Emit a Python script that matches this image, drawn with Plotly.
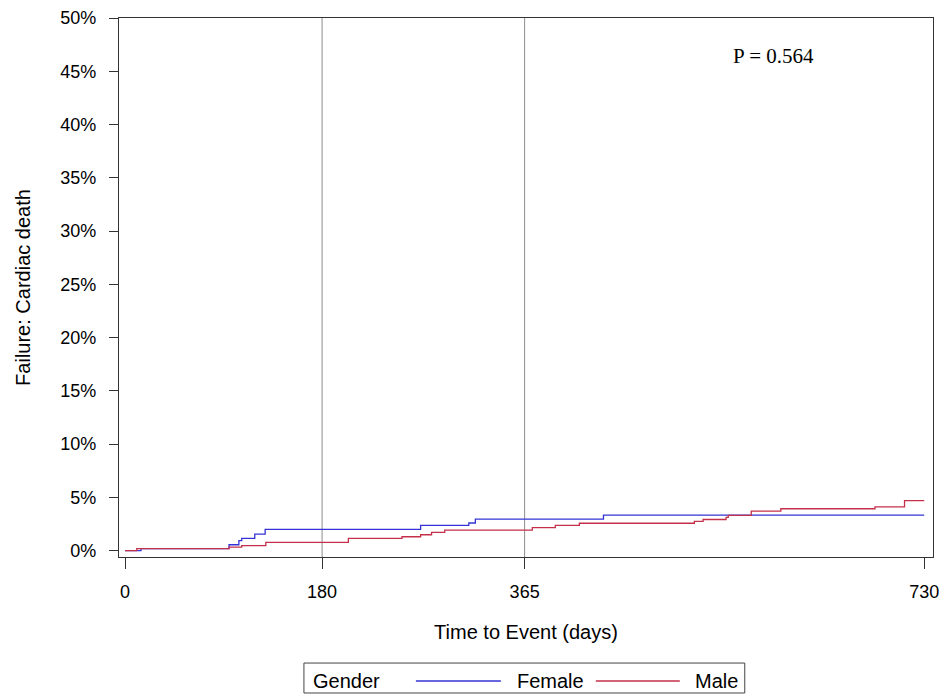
import plotly.graph_objects as go

# ---- data ----
female_days = [0, 14.6, 95, 104, 106.6, 118.5, 128, 270, 314, 320, 437, 730]
female_pct = [0, 0.19, 0.56, 0.94, 1.15, 1.56, 2.0, 2.37, 2.6, 2.97, 3.34, 3.34]

male_days = [0, 10.7, 95, 106.6, 128.6, 204, 253, 270, 280, 292, 372, 393, 415,
             520, 528, 549, 551, 572, 599, 685, 712, 730]
male_pct = [0, 0.19, 0.34, 0.47, 0.78, 1.15, 1.31, 1.5, 1.72, 1.94, 2.16, 2.37, 2.58,
            2.75, 2.93, 3.12, 3.31, 3.72, 3.94, 4.12, 4.71, 4.71]

x_ticks = [0, 180, 365, 730]
y_ticks = [0, 5, 10, 15, 20, 25, 30, 35, 40, 45, 50]
y_tick_labels = [f"{v}%" for v in y_ticks]
ref_lines = [180, 365]
p_text = "P = 0.564"

BLUE = "#3434D6"
RED = "#C4304A"
FONT = "Liberation Sans, Arial, sans-serif"

OFF = 8  # page body margin
W, H = 950 - OFF, 695 - OFF
L, R, T, B = 119 - OFF, 933.3 - OFF, 17.5 - OFF, 557.3 - OFF


def px(xp):
    return (xp - OFF - L) / (R - L)


def py(yp):
    return (B - (yp - OFF)) / (B - T)


fig = go.Figure()
fig.add_trace(go.Scatter(x=female_days, y=female_pct, mode="lines", line_shape="hv",
                         line=dict(color=BLUE, width=1.3), name="Female", showlegend=False))
fig.add_trace(go.Scatter(x=male_days, y=male_pct, mode="lines", line_shape="hv",
                         line=dict(color=RED, width=1.3), name="Male", showlegend=False))

shapes = []
for d in ref_lines:
    shapes.append(dict(type="line", xref="x", yref="paper", x0=d, x1=d, y0=0, y1=1,
                       line=dict(color="#8c8c8c", width=1), layer="below"))

# manual legend (box, sample lines)
shapes.append(dict(type="rect", xref="paper", yref="paper",
                   x0=px(304), x1=px(745), y0=py(693.5), y1=py(663.5),
                   line=dict(color="#444444", width=1), fillcolor="white"))
ly = py(681.5)
shapes.append(dict(type="line", xref="paper", yref="paper", x0=px(416), x1=px(501),
                   y0=ly, y1=ly, line=dict(color=BLUE, width=1.3)))
shapes.append(dict(type="line", xref="paper", yref="paper", x0=px(596), x1=px(680),
                   y0=ly, y1=ly, line=dict(color=RED, width=1.3)))

annotations = [
    dict(text="Gender", xref="paper", yref="paper", x=px(311), y=ly, xanchor="left",
         yanchor="middle", showarrow=False, font=dict(family=FONT, size=20, color="black")),
    dict(text="Female", xref="paper", yref="paper", x=px(515), y=ly, xanchor="left",
         yanchor="middle", showarrow=False, font=dict(family=FONT, size=20, color="black")),
    dict(text="Male", xref="paper", yref="paper", x=px(693), y=ly, xanchor="left",
         yanchor="middle", showarrow=False, font=dict(family=FONT, size=20, color="black")),
    dict(text=p_text, xref="paper", yref="paper", x=px(774), y=py(56), xanchor="center",
         yanchor="middle", showarrow=False,
         font=dict(family="Liberation Serif, Times New Roman, serif", size=21, color="black")),
]

fig.update_layout(
    width=W, height=H,
    margin=dict(l=L, r=W - R, t=T, b=H - B, pad=0, autoexpand=False),
    paper_bgcolor="white", plot_bgcolor="white",
    font=dict(family=FONT, size=18, color="black"),
    shapes=shapes, annotations=annotations,
    showlegend=False,
)
fig.update_xaxes(
    range=[-5.5, 738], tickvals=x_ticks, ticktext=[str(v) for v in x_ticks],
    ticks="outside", ticklen=11, tickcolor="#333333", tickwidth=1,
    ticklabelstandoff=7, automargin=False,
    showline=True, linecolor="#333333", linewidth=1.3, mirror=True,
    showgrid=False, zeroline=False,
    title=dict(text="Time to Event (days)", font=dict(size=20), standoff=24),
)
fig.update_yaxes(
    range=[-0.59, 50], tickvals=y_ticks, ticktext=y_tick_labels,
    ticks="outside", ticklen=9, tickcolor="#333333", tickwidth=1,
    ticklabelstandoff=9, automargin=False,
    showline=True, linecolor="#333333", linewidth=1.3, mirror=True,
    showgrid=False, zeroline=False,
    title=dict(text="Failure: Cardiac death", font=dict(size=20), standoff=24),
)

fig.write_html("out.html")
